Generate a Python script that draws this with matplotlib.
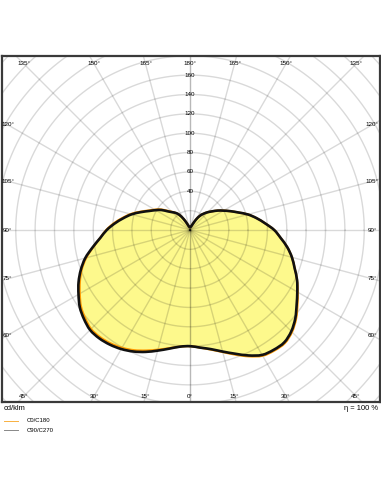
import numpy as np
import matplotlib
matplotlib.use('Agg')
from matplotlib import pyplot as plt
from matplotlib.lines import Line2D
from matplotlib.path import Path
from matplotlib.patches import PathPatch

plt.rcParams['font.family'] = ['Liberation Sans', 'DejaVu Sans']

# gamma angle from nadir (deg), luminous intensity in cd/klm
gamma = list(range(0, 181, 5))
c90 = [120, 122, 125, 130, 136, 143, 149, 151, 151.5, 148, 142, 134.5, 128, 122, 115, 109,
       102, 94, 87, 78, 70, 62, 53, 46, 40, 35, 30, 26, 22, 18, 12.5, 7, 4.5, 3.5, 3.2, 3, 2.8]
c270 = [120, 121, 124.5, 129, 134, 138.5, 142, 144.5, 146, 146, 143, 139, 133, 127, 120, 112,
        102, 93, 86, 78, 70, 62.5, 54, 46.5, 41, 36, 30, 26, 23, 19, 13, 7.5, 4.5, 3.5, 3.2, 3, 2.8]
c0 = [120, 122, 125.5, 130.5, 137, 144, 150, 152, 152.5, 149, 143, 135.5, 128.5, 122, 115, 109,
      102, 94, 87, 78, 70, 62, 53, 46, 40, 35, 30, 26, 22, 18, 12.5, 7, 4.5, 3.5, 3.2, 3, 2.8]
c180 = [120, 121, 124, 128, 132.5, 137, 140.5, 143, 144.5, 144.5, 141.5, 137.5, 131.5, 125.5, 119, 111,
        101.5, 93, 86.5, 79, 71, 63.5, 55, 47.5, 42, 37, 31, 26.5, 23, 19, 13, 7.5, 4.5, 3.5, 3.2, 3, 2.8]

rings = list(range(20, 281, 20))
ring_labels = [40, 60, 80, 100, 120, 140, 160]
spokes = list(range(0, 181, 15))


def to_xy(g_right, r_right, g_left, r_left):
    # right half: C90 / C0 side, left half: C270 / C180 side, 0 deg points down
    gr = np.radians(np.array(g_right))
    gl = np.radians(np.array(g_left))[::-1][1:-1]
    rr = np.array(r_right)
    rl = np.array(r_left)[::-1][1:-1]
    x = np.concatenate([rr * np.sin(gr), -rl * np.sin(gl)])
    y = np.concatenate([-rr * np.cos(gr), -rl * np.cos(gl)])
    return np.column_stack([x, y])


def smooth_path(p):
    # closed curve through the points, drawn as cubic bezier segments
    n = len(p)
    verts = [p[0]]
    codes = [Path.MOVETO]
    for i in range(n):
        p0, p1, p2, p3 = p[i - 1], p[i], p[(i + 1) % n], p[(i + 2) % n]
        verts += [p1 + (p2 - p0) / 6, p2 - (p3 - p1) / 6, p2]
        codes += [Path.CURVE4] * 3
    return Path(verts, codes)


fig = plt.figure(figsize=(3.81, 4.92), dpi=100)
ax = fig.add_axes([2 / 381, 90 / 492, 378 / 381, 346 / 492])
k = 0.968  # px per cd/klm
ax.set_xlim(-188 / k, 190 / k)
ax.set_ylim(-172 / k, 174 / k)
ax.set_xticks([])
ax.set_yticks([])
for s in ax.spines.values():
    s.set_color('#3a3a3a')
    s.set_linewidth(1.6)

pb = smooth_path(to_xy(gamma, c90, gamma, c270))
po = smooth_path(to_xy(gamma, c0, gamma, c180))
ax.add_patch(PathPatch(po, facecolor='#fdf98c', lw=0, zorder=1))
ax.add_patch(PathPatch(pb, facecolor='#fdf98c', lw=0, zorder=1))

# grid
t = np.linspace(0, 2 * np.pi, 400)
for r in rings:
    ax.plot(r * np.cos(t), r * np.sin(t), color='k', alpha=0.15, lw=1.0, zorder=2)
for a in spokes:
    ar = np.radians(a)
    for sgn in (1, -1):
        ax.plot([0, sgn * 400 * np.sin(ar)], [0, -400 * np.cos(ar)], color='k', alpha=0.15, lw=1.0, zorder=2)

ax.add_patch(PathPatch(po, facecolor='none', edgecolor='#ff9a00', lw=1.6, zorder=3))
ax.add_patch(PathPatch(pb, facecolor='none', edgecolor='#111111', lw=1.9, zorder=4))

# ring labels along 180 deg
for r in ring_labels:
    ax.text(0, r, str(r), fontsize=4.5, ha='center', va='center', zorder=5)

# angle labels near frame
for a in spokes:
    ar = np.radians(a)
    for sgn in ((1,) if a in (0, 180) else (1, -1)):
        dx, dy = sgn * np.sin(ar), -np.cos(ar)
        d1 = 171.5 / abs(dy) if abs(dy) > 1e-6 else 1e9
        d2 = 188.5 / abs(dx) if abs(dx) > 1e-6 else 1e9
        d = min(d1, d2)
        ax.text(d * dx, d * dy, f'{a}°', fontsize=4.5, ha='center', va='center', zorder=5)

fig.text(4 / 381, 1 - 409 / 492, 'cd/klm', fontsize=5.4, ha='left', va='center')
fig.text(378 / 381, 1 - 409 / 492, 'η = 100 %', fontsize=5.4, ha='right', va='center')

fig.add_artist(Line2D([4 / 381, 18 / 381], [1 - 421 / 492] * 2, color='#f8b040', lw=0.7))
fig.add_artist(Line2D([4 / 381, 18 / 381], [1 - 430 / 492] * 2, color='#888888', lw=0.7))
fig.text(27 / 381, 1 - 421 / 492, 'C0/C180', fontsize=4.3, ha='left', va='center')
fig.text(27 / 381, 1 - 430 / 492, 'C90/C270', fontsize=4.3, ha='left', va='center')

fig.savefig('out.png', dpi=100)
